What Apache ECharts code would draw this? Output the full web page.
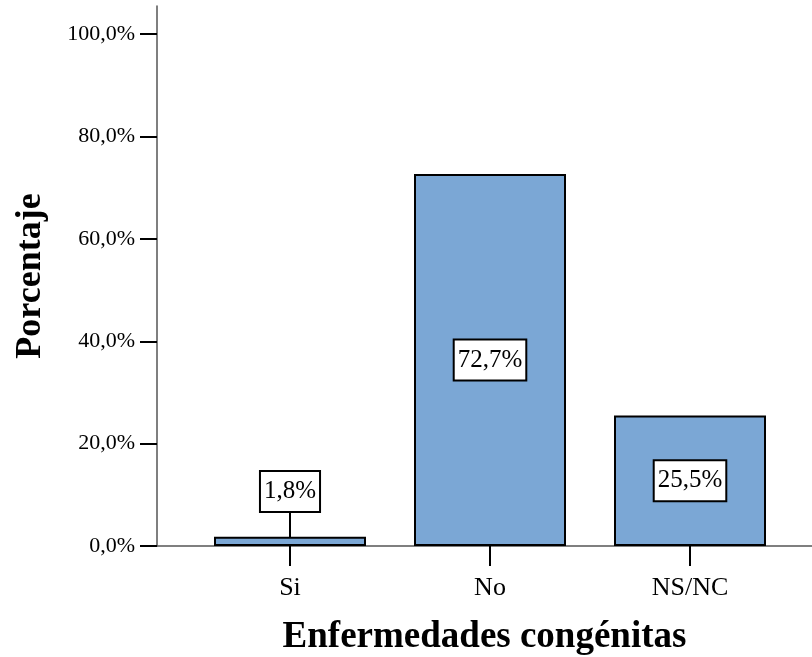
<!DOCTYPE html>
<html>
<head>
<meta charset="utf-8">
<script src="https://cdn.jsdelivr.net/npm/echarts@6/dist/echarts.min.js"></script>
<style>html,body{margin:0;padding:0;background:#fff}#c{width:812px;height:657px}</style>
</head>
<body>
<div id="c"></div>
<script>
const categories = ['Si', 'No', 'NS/NC'];
const values = [1.8, 72.7, 25.5];
const valueLabels = ['1,8%', '72,7%', '25,5%'];
const yTicks = [0, 20, 40, 60, 80, 100];

const chart = echarts.init(document.getElementById('c'), null, {renderer: 'canvas'});
const serif = 'Liberation Serif';
chart.setOption({
  animation: false,
  grid: {left: 157, right: 0, top: 6, bottom: 111, containLabel: false, outerBoundsMode: 'none'},
  xAxis: {
    type: 'value',
    min: -0.665, max: 2.61,
    splitLine: {show: false},
    axisLine: {show: true, onZero: false, lineStyle: {color: '#555', width: 1.5}},
    axisTick: {show: true, customValues: categories.map((c, i) => i), length: 20, lineStyle: {color: '#000', width: 2}},
    axisLabel: {customValues: categories.map((c, i) => i), formatter: v => categories[Math.round(v)] || '', fontFamily: serif, fontSize: 26, color: '#000', margin: 29},
    name: 'Enfermedades congénitas', nameLocation: 'middle', nameGap: 73,
    nameTextStyle: {fontFamily: serif, fontSize: 37, fontWeight: 'bold', color: '#000'}
  },
  yAxis: {
    type: 'value', min: 0, max: 105.5,
    splitLine: {show: false},
    axisLine: {show: true, onZero: false, lineStyle: {color: '#555', width: 1.5}},
    axisTick: {show: true, customValues: yTicks, length: 17, lineStyle: {color: '#000', width: 2}},
    axisLabel: {customValues: yTicks, formatter: v => v.toFixed(1).replace('.', ',') + '%', fontFamily: serif, fontSize: 22, color: '#000', margin: 22},
    name: 'Porcentaje', nameLocation: 'middle', nameGap: 108,
    nameTextStyle: {fontFamily: serif, fontSize: 36, fontWeight: 'bold', color: '#000'}
  },
  series: [{
    type: 'bar',
    barWidth: 152,
    data: values.map((v, i) => [i, v]),
    itemStyle: {color: '#7ba7d5', borderColor: '#000', borderWidth: 2},
    label: {
      show: true, position: 'inside',
      formatter: p => valueLabels[p.dataIndex],
      fontFamily: serif, fontSize: 25, color: '#000',
      backgroundColor: '#fff', borderColor: '#000', borderWidth: 2,
      padding: [8, 3, 6, 3]
    },
    labelLine: {show: true, lineStyle: {color: '#000', width: 2}},
    labelLayout: p => p.dataIndex === 0 ? {dy: -50} : {}
  }]
});
</script>
</body>
</html>
